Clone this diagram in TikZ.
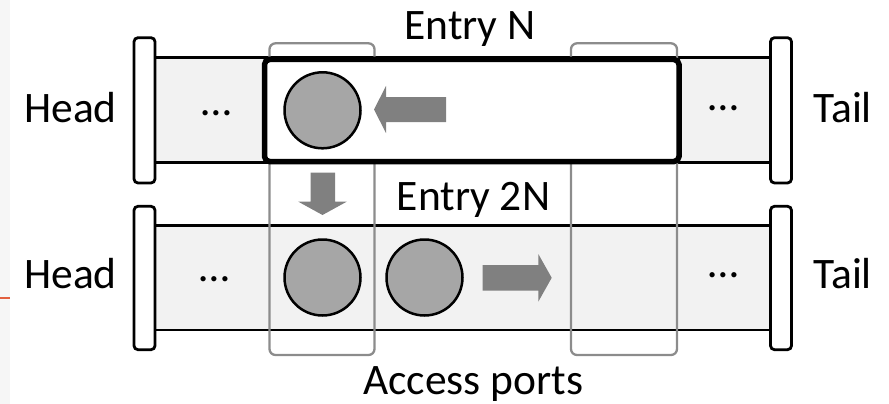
\documentclass[tikz,border=0pt]{standalone}
\usepackage{fontspec}
\setmainfont{Carlito}
\definecolor{pipegray}{HTML}{F2F2F2}
\definecolor{ballgray}{HTML}{A6A6A6}
\definecolor{arrowgray}{HTML}{808080}
\definecolor{portgray}{HTML}{8C8C8C}
\definecolor{edgegray}{HTML}{F6F6F6}
\definecolor{accent}{HTML}{E2603F}
\begin{document}
\begin{tikzpicture}[x=1pt,y=-1pt,
  lbl/.style={font=\fontsize{43.5}{50}\selectfont, inner sep=0pt, anchor=base},
  capbox/.style={draw=black, line width=2.8pt, fill=white, rounded corners=4pt,
    minimum width=21pt, inner sep=0pt},
  pipeline/.style={draw=black, line width=2.6pt},
  port/.style={draw=portgray, line width=2.3pt, rounded corners=6pt,
    minimum height=311.7pt, inner sep=0pt},
  entrybox/.style={draw=black, line width=5.5pt, fill=white, rounded corners=5pt,
    inner sep=0pt},
  ball/.style={circle, draw=black, line width=2.5pt, fill=ballgray,
    minimum size=76pt, inner sep=0pt},
  blockarrow/.style={fill=arrowgray}]

\useasboundingbox (0,0) rectangle (889,404);

% page edge
\fill[edgegray] (0,0) rectangle (10,404);
\draw[accent, line width=1.6pt] (0,298) -- (10,298);

% pipe bodies
\fill[pipegray] (150,57.5) rectangle (775,162.5);
\fill[pipegray] (150,225.5) rectangle (775,330);
\draw[pipeline] (150,57.5) -- (775,57.5) (150,162.5) -- (775,162.5);
\draw[pipeline] (150,225.5) -- (775,225.5) (150,330) -- (775,330);

% access ports
\node[port, minimum width=105pt] (portL) at (322,199.15) {};
\node[port, minimum width=106pt] (portR) at (624,199.15) {};

% highlighted entry
\node[entrybox, minimum width=414.5pt, minimum height=102pt] (entryN) at (471.75,110.5) {};

% end caps
\node[capbox, minimum height=145.3pt] (capHA) at (144.5,110.35) {};
\node[capbox, minimum height=145.3pt] (capTA) at (781,110.35) {};
\node[capbox, minimum height=143.4pt] (capHB) at (144.5,278) {};
\node[capbox, minimum height=143.4pt] (capTB) at (781,278) {};

% domain walls
\node[ball] (wallA) at (322.5,110.3) {};
\node[ball] (wallB) at (322.5,277.5) {};
\node[ball] (wallC) at (424.5,277.5) {};

% shift directions
\fill[blockarrow] (446,97) -- (386,97) -- (386,86) -- (374,109.5) -- (386,133)
  -- (386,122) -- (446,122) -- cycle;
\fill[blockarrow] (310.7,172.7) -- (335,172.7) -- (335,201.7) -- (346.7,201.7)
  -- (322.5,215) -- (298.3,201.7) -- (310.7,201.7) -- cycle;
\fill[blockarrow] (482.7,265) -- (538.3,265) -- (538.3,254) -- (551.7,277.8)
  -- (538.3,301.7) -- (538.3,290.7) -- (482.7,290.7) -- cycle;

% labels
\node[lbl] (headA) at (70.5,122) {Head};
\node[lbl] (headB) at (70.5,288.5) {Head};
\node[lbl] (tailA) at (842.7,122) {Tail};
\node[lbl] (tailB) at (842.7,288.5) {Tail};
\node[lbl] (entryNlbl) at (470,40) {Entry N};
\node[lbl] (entry2N) at (473.5,210) {Entry 2N};
\node[lbl] (ports) at (473.3,394.5) {Access ports};

% elided domains
\node[lbl] (dotsA) at (217,115) {…};
\node[lbl] (dotsB) at (724,110.5) {…};
\node[lbl] (dotsC) at (215,281) {…};
\node[lbl] (dotsD) at (724,277.8) {…};
\end{tikzpicture}
\end{document}
